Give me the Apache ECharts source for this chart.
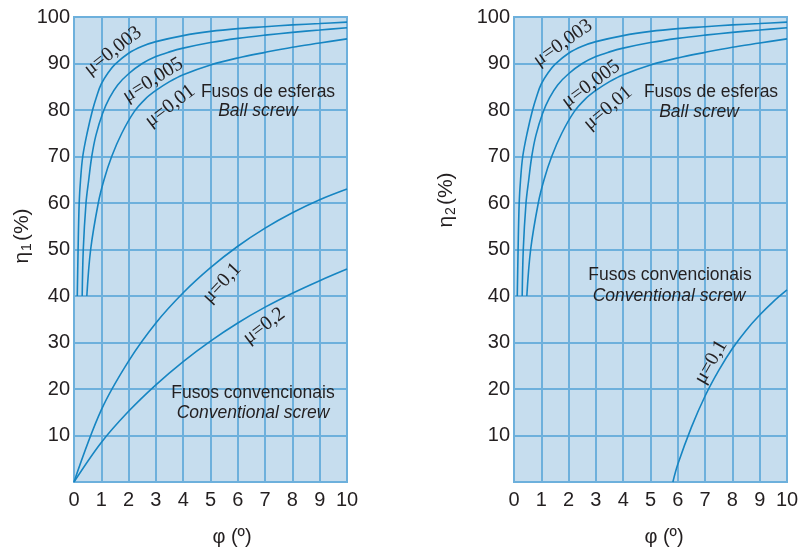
<!DOCTYPE html>
<html>
<head>
<meta charset="utf-8">
<script src="https://cdn.jsdelivr.net/npm/echarts@6/dist/echarts.min.js"></script>
<style>
  html, body { margin: 0; padding: 0; background: #fff; }
  #chart { width: 802px; height: 550px; }
</style>
</head>
<body>
<div id="chart"></div>
<script>
// φ (degrees) vs efficiency (%)
const ball003 = [[0.12, 40], [0.15, 50], [0.19, 60], [0.24, 65], [0.32, 70], [0.48, 75], [0.68, 80], [0.85, 83.3], [1, 85.6], [1.25, 88], [1.5, 89.8], [2, 92.2], [2.5, 93.7], [3, 94.7], [4, 96.0], [5, 96.9], [6, 97.5], [7, 97.9], [8, 98.3], [9, 98.6], [10, 98.9]];
const ball005 = [[0.3, 40], [0.34, 50], [0.44, 60], [0.54, 65], [0.65, 70], [0.8, 74.5], [1.05, 79.3], [1.3, 82.6], [1.6, 85.4], [2, 87.8], [2.5, 90], [3, 91.5], [3.5, 92.5], [4, 93.3], [5, 94.5], [6, 95.4], [7, 96.1], [8, 96.7], [9, 97.2], [10, 97.7]];
const ball01 = [[0.47, 40], [0.61, 50], [0.89, 60], [1.1, 65], [1.38, 70], [1.75, 75], [2.2, 79.6], [2.6, 82.3], [3, 84.2], [3.5, 86.1], [4, 87.6], [5, 89.7], [6, 91.2], [7, 92.4], [8, 93.5], [9, 94.4], [10, 95.3]];
const conv1Left = [[0, 0], [1, 15.5], [2, 26], [3, 34.2], [4, 40.7], [5, 46.1], [6, 50.7], [7, 54.6], [8, 57.9], [9, 60.7], [10, 63]];
const conv2Left = [[0, 0], [1, 8.5], [2, 15.2], [3, 20.9], [4, 25.9], [5, 30.3], [6, 34.2], [7, 37.6], [8, 40.6], [9, 43.3], [10, 45.8]];
const conv1Right = [[5.82, 0], [6, 3.8], [6.5, 11.8], [7, 18.5], [7.5, 24], [8, 28.7], [8.5, 32.6], [9, 35.9], [9.5, 38.8], [10, 41.3]];

const xTicks = [0, 10, 1];   // min, max, step
const yTicks = [0, 100, 10];

const gridColor = '#6db0dc';
const curveColor = '#1685c2';
const textColor = '#231f20';

const chart = echarts.init(document.getElementById('chart'));

function xAxis(gridIndex) {
  return {
    type: 'value', gridIndex, min: xTicks[0], max: xTicks[1], interval: xTicks[2],
    axisLine: { show: true, lineStyle: { color: gridColor, width: 2 } },
    axisTick: { show: false },
    axisLabel: { color: textColor, fontSize: 20, margin: 8, fontFamily: 'Liberation Sans' },
    splitLine: { show: true, lineStyle: { color: gridColor, width: 2 } }
  };
}

function yAxis(gridIndex) {
  return {
    type: 'value', gridIndex, min: yTicks[0], max: yTicks[1], interval: yTicks[2],
    axisLine: { show: true, lineStyle: { color: gridColor, width: 2 } },
    axisTick: { show: false },
    axisLabel: {
      color: textColor, fontSize: 20, margin: 4, fontFamily: 'Liberation Sans',
      formatter: (v) => (v === 0 ? '' : v)
    },
    splitLine: { show: true, lineStyle: { color: gridColor, width: 2 } }
  };
}

function curve(data, idx) {
  return {
    type: 'line', xAxisIndex: idx, yAxisIndex: idx, data,
    showSymbol: false, smooth: 0.35, silent: true,
    lineStyle: { color: curveColor, width: 1.6 }
  };
}

function note(text, x, y, opts) {
  opts = opts || {};
  return {
    type: 'text', x, y, rotation: ((opts.rot || 0) * Math.PI) / 180, z: 100,
    style: {
      text, fill: textColor, align: 'center', verticalAlign: 'middle',
      fontSize: opts.size || 17.5,
      fontFamily: opts.serif ? 'Liberation Serif' : 'Liberation Sans',
      fontStyle: opts.italic ? 'italic' : 'normal'
    }
  };
}

function etaTitle(sub, x, y) {
  return {
    type: 'text', x, y, rotation: Math.PI / 2, z: 100,
    style: {
      text: '{a|η}{b|' + sub + '}{a|(%)}', align: 'center', verticalAlign: 'middle',
      rich: {
        a: { fontSize: 21, fill: textColor, fontFamily: 'Liberation Sans' },
        b: { fontSize: 14, fill: textColor, fontFamily: 'Liberation Sans', padding: [10, 2, 0, 1] }
      }
    }
  };
}

const option = {
  animation: false,
  grid: [
    { left: 74, top: 17, width: 273, height: 465, show: true, backgroundColor: '#c6ddee', borderColor: gridColor, borderWidth: 2 },
    { left: 514, top: 17, width: 273, height: 465, show: true, backgroundColor: '#c6ddee', borderColor: gridColor, borderWidth: 2 }
  ],
  xAxis: [xAxis(0), xAxis(1)],
  yAxis: [yAxis(0), yAxis(1)],
  series: [
    curve(ball003, 0), curve(ball005, 0), curve(ball01, 0),
    curve(conv1Left, 0), curve(conv2Left, 0),
    curve(ball003, 1), curve(ball005, 1), curve(ball01, 1),
    curve(conv1Right, 1)
  ],
  graphic: [
    // left panel
    note('μ=0,003', 113, 51, { serif: true, size: 20, rot: 38 }),
    note('μ=0,005', 153, 80, { serif: true, size: 20, rot: 32 }),
    note('μ=0,01', 170, 106, { serif: true, size: 20, rot: 37 }),
    note('Fusos de esferas', 268, 92),
    note('Ball screw', 258, 111, { italic: true }),
    note('μ=0,1', 222, 283, { serif: true, size: 20, rot: 47 }),
    note('μ=0,2', 264, 326, { serif: true, size: 20, rot: 37 }),
    note('Fusos convencionais', 253, 393),
    note('Conventional screw', 253, 413, { italic: true }),
    note('φ (º)', 232, 537, { size: 20 }),
    etaTitle('1', 22, 236),
    // right panel
    note('μ=0,003', 563, 43, { serif: true, size: 20, rot: 35 }),
    note('μ=0,005', 591, 84, { serif: true, size: 20, rot: 36 }),
    note('μ=0,01', 608, 108, { serif: true, size: 20, rot: 40 }),
    note('Fusos de esferas', 711, 92),
    note('Ball screw', 699, 112, { italic: true }),
    note('Fusos convencionais', 670, 275),
    note('Conventional screw', 669, 296, { italic: true }),
    note('μ=0,1', 711, 362, { serif: true, size: 20, rot: 60 }),
    note('φ (º)', 664, 537, { size: 20 }),
    etaTitle('2', 446, 200)
  ]
};

chart.setOption(option);
</script>
</body>
</html>
